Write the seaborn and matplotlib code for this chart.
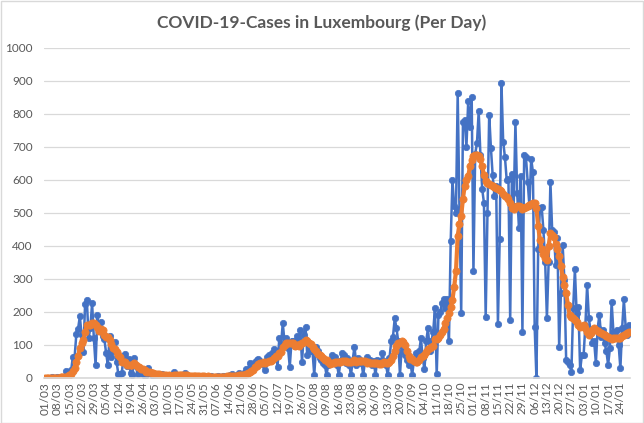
import pandas as pd
import seaborn as sns
import matplotlib.pyplot as plt
from matplotlib.patches import Rectangle

# Daily new cases, 01/03/2020 .. 29/01/2021 (month by month)
mar = [0, 0, 0, 0, 1, 0, 0, 1, 0, 2, 2, 0, 19, 12, 17, 22, 63, 63, 132, 149, 186, 128, 77, 224, 234, 120, 152, 226, 119, 38, 190]
apr = [141, 168, 125, 117, 75, 39, 127, 64, 81, 108, 47, 11, 11, 15, 66, 71, 36, 57, 13, 8, 60, 36, 11, 30, 16, 12, 6, 12, 28, 15]
may = [11, 5, 5, 3, 9, 10, 10, 6, 4, 3, 6, 3, 9, 16, 8, 5, 4, 6, 8, 15, 3, 4, 4, 5, 3, 1, 5, 4, 2, 5, 5]
jun = [1, 3, 2, 4, 2, 1, 2, 5, 3, 2, 4, 6, 3, 2, 8, 10, 6, 4, 9, 14, 6, 5, 15, 25, 18, 45, 33, 30, 48, 55]
jul = [58, 52, 45, 40, 23, 64, 69, 60, 75, 88, 80, 33, 119, 100, 165, 109, 120, 90, 33, 110, 110, 95, 125, 100, 145, 49, 130, 155, 69, 85, 80]
aug = [80, 8, 94, 80, 60, 55, 45, 40, 8, 40, 50, 69, 55, 64, 40, 8, 50, 74, 69, 45, 60, 40, 8, 55, 94, 40, 60, 55, 45, 8, 50]
sep = [64, 45, 55, 40, 50, 8, 55, 50, 45, 74, 50, 40, 8, 60, 110, 124, 180, 150, 110, 8, 95, 80, 70, 55, 38, 45, 8, 55, 74, 70]
oct_ = [80, 119, 60, 25, 110, 150, 80, 110, 140, 210, 10, 190, 200, 225, 240, 210, 240, 110, 414, 598, 520, 500, 863, 511, 195, 776, 781, 700, 837, 760, 850]
nov = [322, 679, 710, 807, 674, 572, 530, 185, 500, 797, 695, 613, 550, 580, 164, 420, 894, 715, 669, 600, 603, 174, 618, 520, 774, 560, 455, 610, 139, 674]
dec = [669, 593, 520, 664, 623, 154, 0, 390, 513, 518, 447, 352, 180, 352, 594, 447, 442, 342, 422, 94, 256, 402, 296, 54, 49, 40, 18, 210, 328, 195, 215]
jan = [23, 69, 70, 160, 281, 180, 140, 104, 110, 44, 150, 190, 124, 145, 104, 80, 39, 89, 230, 140, 120, 145, 100, 28, 150, 237, 155, 130, 160]

# 7-day average (orange line)
avg_mar = [0, 0, 0, 0, 0, 0, 0, 0, 0, 1, 1, 1, 3, 5, 7, 11, 19, 28, 47, 65, 90, 106, 114, 137, 161, 160, 160, 166, 165, 159, 154]
avg_apr = [141, 148, 144, 128, 122, 122, 113, 102, 90, 87, 77, 68, 64, 48, 48, 47, 37, 38, 38, 38, 44, 40, 32, 31, 25, 25, 24, 18, 16, 17]
avg_may = [14, 13, 12, 11, 11, 8, 8, 7, 7, 6, 7, 6, 6, 7, 7, 7, 7, 7, 8, 9, 7, 6, 6, 6, 6, 5, 4, 4, 3, 4, 4]
avg_jun = [3, 4, 3, 3, 3, 3, 2, 3, 3, 3, 3, 3, 4, 4, 4, 5, 6, 6, 6, 8, 8, 8, 8, 11, 13, 18, 21, 24, 31, 36]
avg_jul = [41, 46, 46, 47, 46, 48, 50, 50, 54, 60, 66, 67, 75, 79, 94, 99, 104, 105, 105, 104, 105, 95, 98, 95, 103, 105, 108, 114, 110, 105, 102]
avg_aug = [93, 87, 82, 71, 70, 65, 60, 55, 55, 47, 43, 44, 44, 47, 47, 47, 48, 51, 51, 50, 49, 49, 49, 50, 53, 49, 51, 50, 51, 51, 50]
avg_sep = [46, 47, 46, 44, 45, 45, 45, 43, 43, 46, 47, 46, 46, 47, 55, 67, 82, 96, 106, 106, 111, 107, 99, 81, 65, 56, 56, 50, 49, 49]
avg_oct = [53, 64, 67, 69, 77, 88, 89, 93, 96, 118, 116, 120, 128, 138, 148, 165, 180, 195, 215, 236, 276, 322, 430, 465, 491, 542, 582, 598, 610, 640, 660]
avg_nov = [672, 676, 676, 672, 662, 640, 613, 596, 590, 587, 584, 580, 577, 575, 573, 570, 565, 558, 552, 548, 542, 530, 515, 511, 516, 520, 521, 516, 511, 514]
avg_dec = [518, 521, 524, 527, 530, 528, 513, 460, 417, 390, 375, 362, 357, 400, 437, 432, 427, 405, 390, 370, 340, 306, 280, 256, 220, 190, 185, 180, 175, 168, 160]
avg_jan = [155, 158, 160, 150, 140, 128, 135, 145, 150, 145, 142, 140, 136, 132, 130, 126, 122, 119, 118, 119, 119, 119, 120, 121, 125, 128, 131, 134, 137]

daily = mar + apr + may + jun + jul + aug + sep + oct_ + nov + dec + jan
avg7 = avg_mar + avg_apr + avg_may + avg_jun + avg_jul + avg_aug + avg_sep + avg_oct + avg_nov + avg_dec + avg_jan

dates = pd.date_range('2020-03-01', periods=len(daily), freq='D')
df = pd.DataFrame({'day': range(len(daily)), 'cases': daily, 'avg': avg7})

sns.set_theme(style='white')
plt.rcParams['font.family'] = ['Lato', 'DejaVu Sans']

fig = plt.figure(figsize=(6.44, 4.23), dpi=100)
ax = fig.add_axes([44 / 644, 1 - 377.7 / 423, (630 - 44) / 644, 330 / 423])

blue = '#4472C4'
orange = '#ED7D31'
sns.lineplot(data=df, x='day', y='cases', ax=ax, color=blue, linewidth=1.8,
             marker='o', markersize=4.6, markeredgecolor=blue, markeredgewidth=0.5)
sns.lineplot(data=df, x='day', y='avg', ax=ax, color=orange, linewidth=3,
             marker='o', markersize=5.2, markeredgecolor=orange, markeredgewidth=0.5)

ax.set_xlim(-0.5, len(daily) - 0.5)
ax.set_ylim(0, 1000)
ax.set_yticks(range(0, 1001, 100))
ax.yaxis.grid(True, color='#D9D9D9', linewidth=0.9)
ax.set_axisbelow(True)

ticks = list(range(0, len(daily), 7))
ax.set_xticks(ticks)
ax.set_xticklabels([dates[i].strftime('%d/%m') for i in ticks], rotation=90)

ax.tick_params(axis='y', length=0, pad=8, labelsize=8.5, labelcolor='#595959')
ax.tick_params(axis='x', length=0, pad=3, labelsize=8.5, labelcolor='#595959')
for side in ['left', 'right', 'top']:
    ax.spines[side].set_visible(False)
ax.spines['bottom'].set_color('#D9D9D9')
ax.set_xlabel('')
ax.set_ylabel('')

fig.text(0.5, 1 - 23 / 423, 'COVID-19-Cases in Luxembourg (Per Day)', ha='center', va='center',
         fontsize=12.5, fontweight='bold', color='#595959')

fig.patches.append(Rectangle((0.001, 0.001), 0.998, 0.997, transform=fig.transFigure,
                             fill=False, edgecolor='#D9D9D9', linewidth=1))

fig.savefig('out.png', dpi=100)
